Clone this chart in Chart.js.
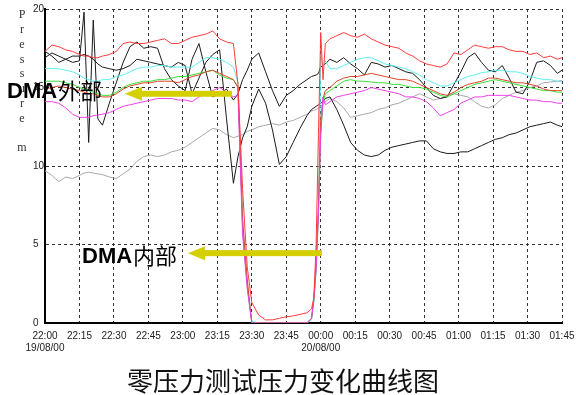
<!DOCTYPE html>
<html>
<head>
<meta charset="utf-8">
<script src="https://cdn.jsdelivr.net/npm/chart.js@4.4.1/dist/chart.umd.min.js"></script>
<style>
    html, body { margin: 0; padding: 0; background: #fff; }
</style>
</head>
<body>
<canvas id="pressureChart" width="576" height="395"></canvas>
<script>
// ===== DATA =====
// minutes after 22:00 (19/08/00)
const minutes = [0, 3, 6, 9, 12, 15, 17, 19, 21, 23, 25,
    28, 31, 34, 37, 40, 43, 46, 49, 52, 55, 58, 61, 64, 67, 70, 73, 76, 79, 82,
    84, 86, 88, 90, 93, 96, 99, 102, 105, 108, 111, 114,
    116, 117, 118, 119, 120, 121, 122,
    124, 127, 130, 133, 136, 139, 142, 145, 148, 151, 154, 157, 160, 163, 166, 169, 172, 175,
    178, 181, 184, 187, 190, 193, 196, 199, 202, 205, 208, 211, 214, 217, 220, 223, 225];

const redValues = [17.3, 17.7, 17.6, 17.4, 17.3, 17.1, 17.0, 17.0, 16.9, 16.9, 17.0,
    17.1, 17.3, 17.8, 17.9, 17.8, 17.8, 17.9, 18.0, 18.1, 17.8, 17.8, 18.0, 18.2, 18.3, 18.4, 18.6, 18.1, 17.9, 17.8,
    15.2, 8.5, 3.6, 1.3, 0.5, 0.2, 0.2, 0.3, 0.4, 0.45, 0.55, 0.65,
    0.9, 1.6, 5, 12, 18.5, 15.5, 17.8,
    18.1, 18.3, 18.5, 18.3, 18.2, 18.4, 18.1, 17.9, 17.7, 17.6, 17.5, 17.2, 17.0, 16.7, 16.5, 16.4, 16.3, 16.5,
    17.2, 17.1, 17.4, 17.7, 17.6, 17.5, 17.6, 17.6, 17.4, 17.3, 17.3, 17.1, 17.2, 16.9, 17.0, 16.8, 16.9];

const cyanValues = [16.2, 16.2, 16.2, 16.1, 16.0, 15.8, 15.6, 15.5, 15.4, 15.4, 15.5,
    15.5, 15.7, 15.8, 16.0, 16.2, 16.3, 16.3, 16.4, 16.4, 16.3, 16.3, 16.3, 16.3, 16.6, 16.9, 16.9, 16.8, 16.6, 16.3,
    15.3, 6.5, 2.5, 0.1, 0, 0, 0, 0, 0, 0, 0, 0,
    0.2, 1.3, 3.3, 6.8, 17.1, 16.3, 16.7,
    16.2, 16.2, 16.4, 16.6, 16.8, 16.9, 16.9, 16.7, 16.5, 16.4, 16.3, 16.2, 16.0, 15.8, 15.5, 15.3, 15.1, 15.1,
    15.3, 15.5, 15.7, 15.8, 15.95, 16.0, 16.1, 16.1, 16.0, 16.0, 15.9, 15.7, 15.6, 15.5, 15.5, 15.4, 15.35];

const greenValues = [15.4, 15.4, 15.4, 15.3, 15.2, 15.0, 14.9, 14.8, 14.7, 14.6, 14.5,
    14.5, 14.7, 15.0, 15.2, 15.3, 15.4, 15.4, 15.5, 15.5, 15.6, 15.7, 15.7, 15.8, 15.9, 16.0, 16.1, 15.8, 15.6, 15.5,
    15.0, 6.0, 2.4, 0, 0, 0, 0, 0, 0, 0, 0, 0,
    0.3, 1.5, 3.5, 7, 12, 14.0, 14.6,
    14.8, 15.1, 15.4, 15.5, 15.4, 15.4, 15.35, 15.3, 15.3, 15.2, 15.2, 15.1, 15.0, 15.0, 14.9, 14.7, 14.5, 14.4,
    14.6, 14.8, 15.0, 15.2, 15.3, 15.4, 15.5, 15.4, 15.3, 15.2, 15.1, 15.0, 14.9, 14.8, 14.8, 14.7, 14.7];

const orangeValues = [14.9, 15.0, 15.1, 15.0, 14.9, 14.8, 14.7, 14.6, 14.6, 14.5, 14.4,
    14.4, 14.6, 14.9, 15.1, 15.2, 15.3, 15.3, 15.4, 15.4, 15.4, 15.3, 15.5, 15.7, 15.8, 16.0, 16.1, 15.9, 15.7, 15.5,
    15.0, 6.6, 2.8, 0, 0, 0, 0, 0, 0, 0, 0, 0,
    0.3, 1.6, 3.8, 7.5, 13, 14.3, 14.8,
    15.0, 15.4, 15.6, 15.7, 15.7, 15.8, 15.9, 15.8, 15.7, 15.6, 15.5, 15.5, 15.4, 15.2, 15.0, 14.8, 14.6, 14.5,
    14.7, 15.0, 15.2, 15.3, 15.4, 15.6, 15.6, 15.5, 15.4, 15.3, 15.3, 15.2, 15.1, 14.9, 14.8, 14.8, 14.8];

const magentaValues = [14.1, 14.1, 14.0, 13.7, 13.3, 13.1, 13.1, 13.1, 13.2, 13.25, 13.3,
    13.4, 13.6, 13.8, 13.9, 14.0, 14.1, 14.2, 14.3, 14.3, 14.3, 14.2, 14.2, 14.1, 14.4, 14.6, 14.8, 15.0, 14.7, 14.4,
    14.5, 5.6, 2.2, 0, 0, 0, 0, 0, 0, 0, 0, 0,
    0.3, 1.5, 3.4, 6.9, 12, 14.4, 13.9,
    14.1, 14.4, 14.5, 14.6, 14.7, 14.8, 15.0, 14.9, 14.8, 14.7, 14.6, 14.4, 14.4, 14.3, 14.1, 13.7, 13.2, 13.4,
    13.6, 14.0, 14.2, 14.4, 14.4, 14.5, 14.5, 14.5, 14.5, 14.4, 14.3, 14.2, 14.2, 14.1, 14.1, 14.0, 14.0];

const grayValues = [9.7, 9.4, 9.0, 9.3, 9.2, 9.4, 9.55, 9.6, 9.55, 9.5, 9.45,
    9.3, 9.2, 9.5, 9.8, 10.3, 10.6, 10.7, 10.6, 10.7, 10.9, 11.0, 11.2, 11.5, 11.8, 12.1, 12.4, 12.3, 12.0, 11.8,
    11.9, 12.0, 12.2, 12.3, 12.5, 12.6, 12.7, 12.6, 12.8, 12.9, 13.1, 13.3,
    13.5, 13.55, 13.6, 13.7, 13.8, 13.9, 14.1,
    14.3, 14.1, 13.7, 13.1, 13.2, 13.3, 13.4, 13.6, 13.7, 13.9, 14.0, 14.2, 14.4, 14.6, 14.4, 14.2, 14.3, 14.5,
    14.6, 14.5, 14.4, 14.1, 13.8, 13.7, 13.9, 14.3, 14.5, 14.7, 14.8, 15.0, 15.1, 15.3, 15.35, 15.4, 15.45];

const blackAValues = [17.3, 17.0, 16.6, 16.8, 16.6, 16.7, 19.8, 11.5, 19.3, 13.0, 12.6,
    14.0, 15.3, 16.6, 17.6, 17.9, 17.5, 17.6, 17.5, 16.2, 15.5, 15.1, 14.8, 16.8, 17.8, 16.0, 14.4, 14.6, 14.9, 14.2,
    14.6, 15.5, 16.1, 16.8, 17.2, 16.0, 14.8, 13.8, 14.5, 14.8, 15.2, 15.5,
    15.7, 15.75, 15.8, 15.9, 16.3, 16.4, 16.5,
    16.8, 16.6, 16.9, 16.5, 16.2, 15.8, 16.6, 16.5, 16.3, 16.4, 16.2, 16.0, 15.9, 15.5, 15.0, 14.5, 14.3, 14.4,
    15.2, 16.0, 16.9, 17.2, 16.6, 16.1, 16.0, 16.4, 15.6, 14.7, 14.6, 15.4, 16.6, 16.7, 16.4, 15.9, 16.1];

const blackBValues = [16.9, 17.2, 17.0, 16.8, 17.0, 17.0, 17.1, 17.0, 16.8, 16.5, 16.3,
    16.2, 16.1, 16.2, 16.4, 16.8, 16.7, 16.6, 16.5, 16.4, 16.3, 16.6, 16.4, 14.6, 15.6, 16.6, 17.1, 17.4, 13.0, 8.9,
    10.6, 11.8, 12.5, 13.8, 14.9, 14.0, 12.3, 10.1, 10.6, 11.5, 12.4, 13.2,
    13.6, 13.7, 13.8, 13.9, 14.0, 14.1, 14.3,
    14.4, 13.6, 12.6, 11.5, 11.0, 10.7, 10.6, 10.7, 11.0, 11.2, 11.3, 11.4, 11.5, 11.6, 11.6, 11.1, 10.9, 10.8,
    10.8, 10.9, 10.9, 11.1, 11.3, 11.5, 11.7, 11.8, 12.0, 12.1, 12.3, 12.5, 12.6, 12.7, 12.8, 12.6, 12.5];

const xTickLabels = ['22:00', '22:15', '22:30', '22:45', '23:00', '23:15', '23:30', '23:45',
    '00:00', '00:15', '00:30', '00:45', '01:00', '01:15', '01:30', '01:45'];
const dateLabels = ['19/08/00', '20/08/00'];
const yTicks = [0, 5, 10, 15, 20];

const axisLetters = 'Pressure m'.split('');
const chartTitle = '零压力测试压力变化曲线图';
const outsideLabel = ['DMA', '外部'];
const insideLabel = ['DMA', '内部'];

// arrows: [start minute, tip minute, pressure level]
const outsideArrow = [81.4, 34.8, 14.6];
const insideArrow = [120.5, 62.2, 4.45];

// ===== HELPERS =====
function toPoints(values) {
    return minutes.map(function (m, i) { return { x: m, y: values[i] }; });
}

function makeLine(label, values, color) {
    return {
        label: label,
        data: toPoints(values),
        borderColor: color,
        backgroundColor: color,
        borderWidth: 1,
        pointRadius: 0,
        tension: 0,
        fill: false
    };
}

function drawArrow(ctx, xStart, xTip, y) {
    ctx.fillStyle = '#d6cf00';
    ctx.fillRect(xTip + 15, y - 3, xStart - xTip - 15, 6);
    ctx.beginPath();
    ctx.moveTo(xTip, y);
    ctx.lineTo(xTip + 17, y - 7);
    ctx.lineTo(xTip + 17, y + 7);
    ctx.closePath();
    ctx.fill();
}

function drawMixedLabel(ctx, parts, x, baseline) {
    ctx.fillStyle = '#000';
    ctx.textAlign = 'left';
    ctx.textBaseline = 'alphabetic';
    ctx.font = 'bold 22px "Liberation Sans", Arial, sans-serif';
    ctx.fillText(parts[0], x, baseline);
    const w = ctx.measureText(parts[0]).width;
    ctx.font = '22px "Noto Sans CJK SC", sans-serif';
    ctx.fillText(parts[1], x + w + 1, baseline + 1);
}

// ===== OVERLAY PLUGIN =====
const overlayPlugin = {
    id: 'overlay',
    afterDraw(chart) {
        const ctx = chart.ctx;
        const xs = chart.scales.x;
        const ys = chart.scales.y;
        ctx.save();

        // stacked axis caption
        ctx.fillStyle = '#333';
        ctx.font = '12px "Liberation Serif", "Times New Roman", serif';
        ctx.textAlign = 'center';
        ctx.textBaseline = 'middle';
        axisLetters.forEach(function (ch, i) {
            ctx.fillText(ch, 22, 15 + i * 14.8);
        });

        // arrows
        drawArrow(ctx, xs.getPixelForValue(outsideArrow[0]), xs.getPixelForValue(outsideArrow[1]), ys.getPixelForValue(outsideArrow[2]));
        drawArrow(ctx, xs.getPixelForValue(insideArrow[0]), xs.getPixelForValue(insideArrow[1]), ys.getPixelForValue(insideArrow[2]));

        // annotations
        drawMixedLabel(ctx, outsideLabel, 7, 98);
        drawMixedLabel(ctx, insideLabel, 82, 263);

        // title
        ctx.fillStyle = '#111';
        ctx.font = '26px "Noto Sans CJK SC", sans-serif';
        ctx.textAlign = 'center';
        ctx.textBaseline = 'middle';
        ctx.fillText(chartTitle, 283, 381);

        ctx.restore();
    }
};

// ===== CHART =====
const tickFont = { family: '"Liberation Sans Narrow", "Liberation Sans", sans-serif', size: 10 };

new Chart(document.getElementById('pressureChart'), {
    type: 'line',
    data: {
        datasets: [
            makeLine('red', redValues, '#ff3b3b'),
            makeLine('magenta', magentaValues, '#f040e8'),
            makeLine('orange', orangeValues, '#e0442a'),
            makeLine('green', greenValues, '#38e038'),
            makeLine('cyan', cyanValues, '#5ef0f0'),
            makeLine('blackA', blackAValues, '#1a1a1a'),
            makeLine('blackB', blackBValues, '#1a1a1a'),
            makeLine('gray', grayValues, '#a8a8a8')
        ]
    },
    options: {
        responsive: false,
        animation: false,
        layout: {
            padding: { left: 33, right: 14, top: 9, bottom: 0 }
        },
        plugins: {
            legend: { display: false },
            tooltip: { enabled: false }
        },
        scales: {
            x: {
                type: 'linear',
                min: 0,
                max: 225,
                afterFit: function (scale) {
                    scale.height = 72;
                    scale.paddingLeft = 0;
                    scale.paddingRight = 0;
                },
                grid: {
                    color: '#333',
                    lineWidth: 1,
                    drawTicks: false
                },
                border: {
                    display: true,
                    color: '#000',
                    width: 2,
                    dash: [3, 3]
                },
                ticks: {
                    stepSize: 15,
                    autoSkip: false,
                    maxRotation: 0,
                    minRotation: 0,
                    padding: 7,
                    color: '#222',
                    font: tickFont,
                    callback: function (value, index) {
                        const lbl = xTickLabels[index];
                        if (index === 0) return [lbl, dateLabels[0]];
                        if (index === 8) return [lbl, dateLabels[1]];
                        return lbl;
                    }
                }
            },
            y: {
                min: 0,
                max: 20,
                afterFit: function (scale) {
                    scale.width = 12;
                    scale.paddingTop = 0;
                    scale.paddingBottom = 0;
                },
                afterBuildTicks: function (scale) {
                    scale.ticks = yTicks.map(function (v) { return { value: v }; });
                },
                grid: {
                    color: '#333',
                    lineWidth: 1,
                    drawTicks: false
                },
                border: {
                    display: true,
                    color: '#000',
                    width: 2,
                    dash: [3, 3]
                },
                ticks: {
                    crossAlign: 'far',
                    padding: 0,
                    color: '#222',
                    font: tickFont
                }
            }
        }
    },
    plugins: [overlayPlugin]
});
</script>
</body>
</html>
